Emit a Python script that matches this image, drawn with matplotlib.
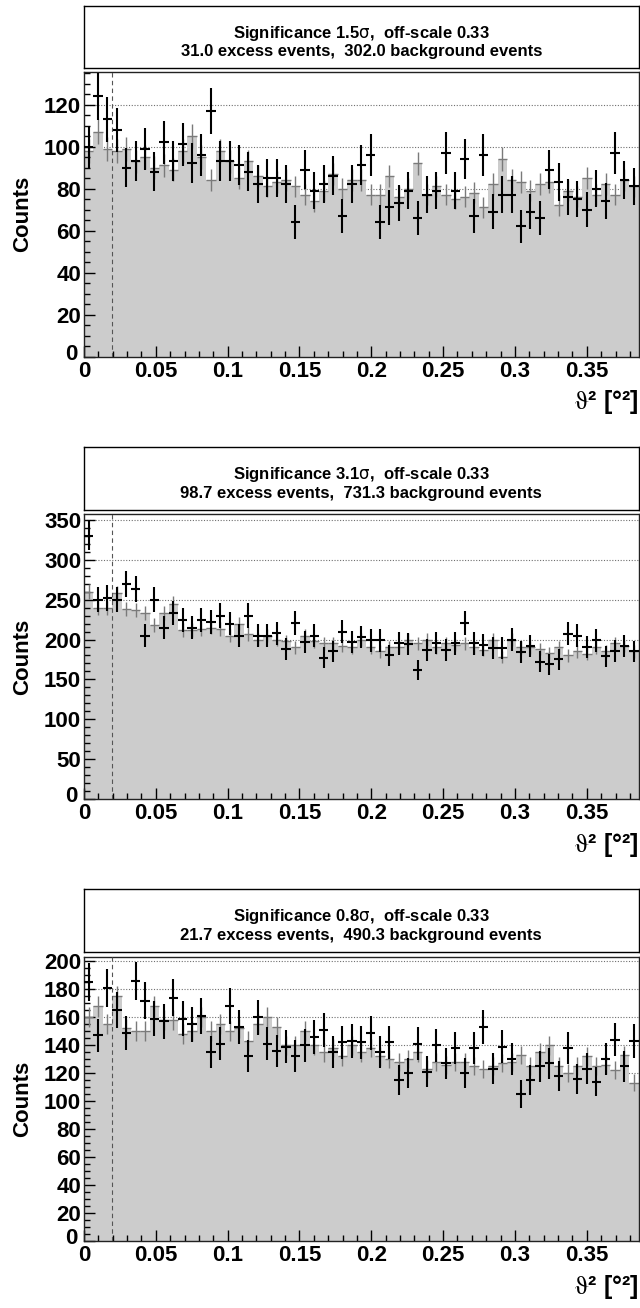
import numpy as np
import matplotlib
matplotlib.use("Agg")
import matplotlib.pyplot as plt
from matplotlib.ticker import MultipleLocator, FuncFormatter
from matplotlib.transforms import blended_transform_factory, offset_copy

# theta^2 binning
N_BINS = 59
THETA2_MAX = 0.386
THETA2_CUT = 3 * THETA2_MAX / N_BINS
OFF_SCALE = 0.33

# Panel 1
on_1 = [100, 124, 113, 108, 90, 93, 99, 88, 102, 93,
        101, 92, 96, 117, 93, 93, 91, 88, 82, 85,
        85, 82, 64, 89, 79, 82, 86, 67, 82, 91,
        96, 64, 71, 73, 79, 66, 77, 79, 97, 79,
        94, 67, 96, 69, 77, 77, 62, 69, 66, 89,
        83, 76, 75, 70, 80, 74, 97, 84, 81]
off_1 = [98, 107, 99, 98, 99, 93, 95, 90, 91, 89,
         98, 105, 95, 84, 98, 93, 85, 93, 86, 81,
         83, 84, 81, 77, 74, 79, 87, 80, 84, 84,
         77, 77, 86, 76, 80, 92, 77, 81, 77, 75,
         76, 78, 71, 82, 94, 84, 83, 79, 82, 83,
         72, 79, 76, 85, 77, 82, 77, 84, 81]

# Panel 2
on_2 = [330, 250, 252, 250, 270, 263, 205, 250, 215, 233,
        225, 215, 225, 222, 230, 220, 205, 230, 205, 205,
        208, 188, 221, 197, 205, 177, 185, 210, 197, 203,
        199, 199, 180, 195, 194, 162, 187, 196, 187, 195,
        221, 195, 193, 189, 189, 200, 184, 192, 172, 169,
        175, 207, 205, 190, 199, 179, 186, 192, 185]
off_2 = [260, 240, 240, 258, 238, 237, 233, 218, 233, 245,
         212, 212, 213, 215, 213, 205, 220, 207, 200, 205,
         200, 198, 190, 205, 198, 195, 195, 192, 190, 200,
         190, 185, 190, 190, 200, 195, 200, 190, 195, 193,
         195, 190, 187, 200, 178, 200, 190, 190, 188, 183,
         190, 180, 185, 182, 190, 185, 195, 192, 185]

# Panel 3
on_3 = [185, 147, 181, 165, 149, 186, 172, 159, 157, 174,
        159, 155, 161, 135, 141, 168, 153, 132, 160, 141,
        136, 139, 132, 140, 146, 151, 135, 142, 143, 142,
        149, 135, 142, 115, 120, 141, 121, 140, 127, 138,
        120, 138, 153, 123, 139, 130, 105, 115, 125, 127,
        118, 138, 116, 123, 114, 130, 144, 125, 143]
off_3 = [160, 168, 155, 175, 152, 150, 150, 168, 158, 158,
         148, 150, 160, 150, 155, 150, 152, 143, 155, 160,
         153, 140, 140, 150, 140, 135, 138, 132, 140, 135,
         138, 132, 130, 128, 130, 135, 123, 128, 126, 128,
         128, 125, 123, 125, 127, 128, 133, 125, 135, 140,
         125, 120, 125, 132, 125, 126, 122, 133, 113]

significance = ["1.5", "3.1", "0.8"]
excess = ["31.0", "98.7", "21.7"]
background = ["302.0", "731.3", "490.3"]
y_max = [135.5, 357.0, 203.4]
y_major = [20, 50, 20]
y_minor = [5, 10, 5]

W, H = 640, 1308
FONT = "Liberation Sans"
fig = plt.figure(figsize=(W / 100, H / 100), dpi=100)


def px_axes(left, top, right, bottom):
    return fig.add_axes([left / W, 1 - bottom / H, (right - left) / W, (bottom - top) / H])


# (title box top, title box bottom, plot top, plot bottom) in pixels
layout = [(6, 68, 72, 356.5), (447, 510, 514.3, 799), (889.3, 952, 956.7, 1240.7)]
LEFT, RIGHT = 84, 638.5

edges = np.linspace(0, THETA2_MAX, N_BINS + 1)
centers = 0.5 * (edges[:-1] + edges[1:])
half_w = 0.5 * (edges[1] - edges[0])

data = [(on_1, off_1), (on_2, off_2), (on_3, off_3)]
tick_font = dict(family=FONT, weight="bold", size=16)

for i, ((on, off), (bt, bb, at, ab)) in enumerate(zip(data, layout)):
    on = np.asarray(on, float)
    off = np.asarray(off, float)

    # statistics box
    tb = px_axes(LEFT, bt, RIGHT, bb)
    tb.set_xticks([])
    tb.set_yticks([])
    for s in tb.spines.values():
        s.set_linewidth(1.0)
        s.set_color("black")
    tb.text(0.5, 0.56, f"Significance {significance[i]}" + r"$\mathrm{\sigma}$" + ",  off-scale 0.33",
            ha="center", va="center", fontsize=12, fontweight="bold", family=FONT,
            math_fontfamily="dejavusans", transform=tb.transAxes)
    tb.text(0.5, 0.26, f"{excess[i]} excess events,  {background[i]} background events",
            ha="center", va="center", fontsize=12, fontweight="bold", family=FONT,
            transform=tb.transAxes)

    ax = px_axes(LEFT, at, RIGHT, ab)
    ax.set_xlim(0, THETA2_MAX)
    ax.set_ylim(0, y_max[i])

    # dotted horizontal grid behind the histogram
    for yv in np.arange(y_major[i], y_max[i], y_major[i]):
        ax.axhline(yv, color="#6f6f6f", lw=0.8, ls=(0, (1, 1.5)), zorder=0.5)

    # scaled off-source histogram
    ax.stairs(off, edges, fill=True, color="#cccccc", baseline=0, zorder=1)
    ax.errorbar(centers, off, xerr=half_w, yerr=np.sqrt(off * OFF_SCALE), fmt="none",
                ecolor="#7a7a7a", elinewidth=1.0, capsize=0, zorder=2)
    # on-source counts
    ax.errorbar(centers, on, xerr=half_w, yerr=np.sqrt(on), fmt="none",
                ecolor="black", elinewidth=1.5, capsize=0, zorder=3)

    ax.axvline(THETA2_CUT, color="#555555", lw=0.8, ls=(0, (4, 3)), zorder=4)

    ax.xaxis.set_major_locator(MultipleLocator(0.05))
    ax.xaxis.set_minor_locator(MultipleLocator(0.01))
    ax.yaxis.set_major_locator(MultipleLocator(y_major[i]))
    ax.yaxis.set_minor_locator(MultipleLocator(y_minor[i]))
    ax.xaxis.set_major_formatter(FuncFormatter(lambda v, p: f"{v:g}"))
    # the y zero label is placed by hand, just clear of the x zero label
    ax.yaxis.set_major_formatter(FuncFormatter(lambda v, p: "" if v == 0 else f"{v:g}"))
    ax.tick_params(which="both", direction="in", top=False, right=False, width=1.0, colors="black")
    ax.tick_params(which="major", length=8)
    ax.tick_params(which="minor", length=4)
    ax.tick_params(axis="y", which="major", pad=2)
    ax.tick_params(axis="x", which="major", pad=3)
    for lab in ax.get_xticklabels() + ax.get_yticklabels():
        lab.set_fontfamily(FONT)
        lab.set_fontweight("bold")
        lab.set_fontsize(16)
    zero_tr = offset_copy(blended_transform_factory(ax.transAxes, ax.transData),
                          fig=fig, x=-7, y=2, units="dots")
    ax.text(0, 0, "0", transform=zero_tr, ha="right", va="center", **tick_font)

    for s in ax.spines.values():
        s.set_linewidth(1.0)
        s.set_color("#222222")

    fig.text(23 / W, 1 - 0.5 * (at + ab) / H, "Counts", rotation=90, ha="center", va="center",
             fontsize=16, fontweight="bold", family=FONT)
    fig.text(RIGHT / W, 1 - (ab + 46) / H, r"$\mathrm{\vartheta}$" + "² [°²]",
             ha="right", va="center", fontsize=18, fontweight="bold", family=FONT,
             math_fontfamily="stix")

fig.savefig("out.png", dpi=100)
